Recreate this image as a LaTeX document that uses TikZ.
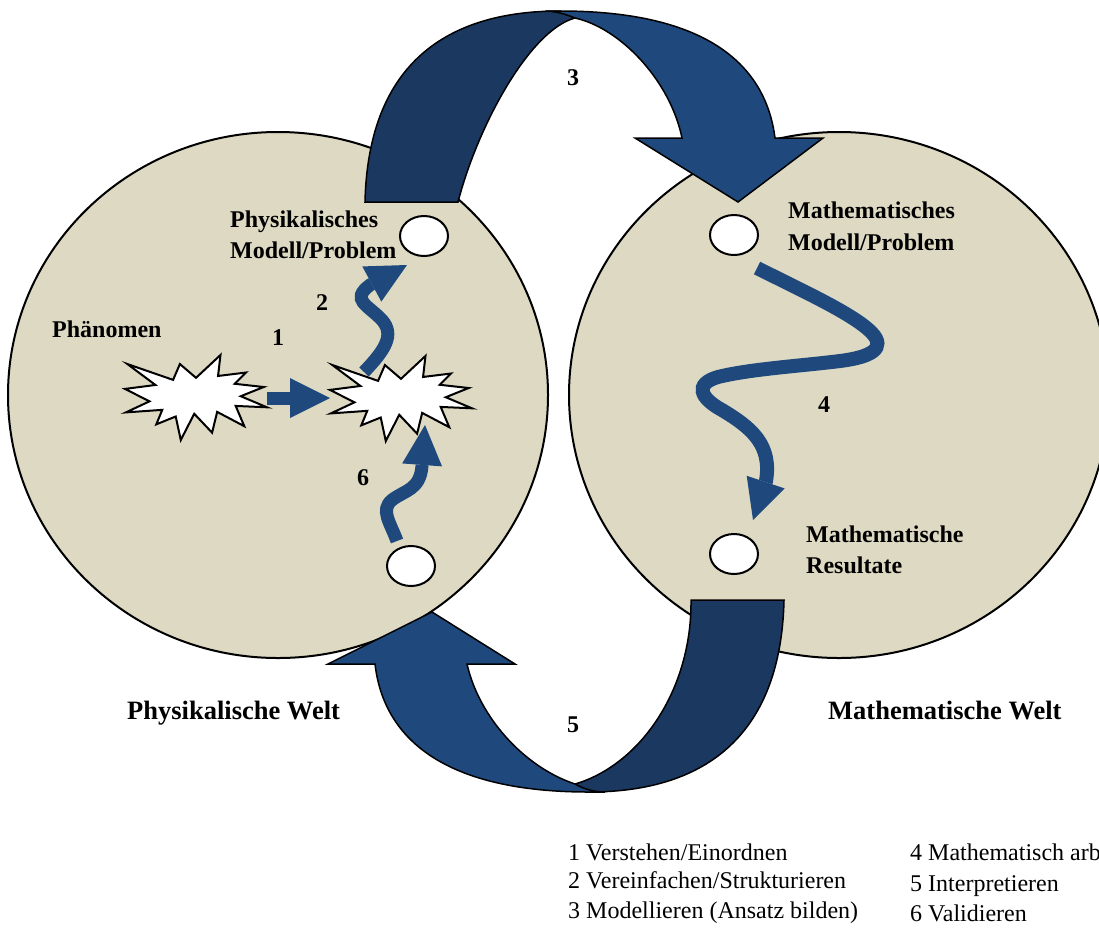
\documentclass[tikz,border=0pt]{standalone}
\usepackage{fontspec}
\setmainfont{Liberation Serif}
\usetikzlibrary{shapes.geometric,arrows.meta}
\definecolor{worldbg}{HTML}{DDD9C3}
\definecolor{bandlight}{HTML}{1F497D}
\definecolor{banddark}{HTML}{1B3861}
\tikzset{
  world/.style={fill=worldbg,draw=black,line width=2pt},
  hole/.style={ellipse,draw=black,fill=white,line width=2pt,minimum width=48pt,minimum height=40pt,inner sep=0pt},
  bandfront/.style={fill=bandlight,draw=black,line width=1.5pt,line join=miter},
  bandback/.style={fill=banddark,draw=black,line width=1.5pt,line join=miter},
  burstline/.style={fill=white,draw=black,line width=2pt,line join=miter,miter limit=10},
  wavearrow/.style={draw=bandlight,line width=13pt,-{Triangle[width=40pt,length=40pt,line width=0pt]}},
  lbl/.style={anchor=base west,inner sep=0pt,font=\fontsize{24}{28}\selectfont\bfseries},
  numtxt/.style={anchor=base,inner sep=0pt,font=\fontsize{24}{28}\selectfont\bfseries},
  weltlbl/.style={anchor=base west,inner sep=0pt,font=\fontsize{26.5}{30}\selectfont\bfseries},
  legtext/.style={anchor=base west,inner sep=0pt,font=\fontsize{24}{28}\selectfont},
  burst/.pic={
    \draw[burstline] (108,58) -- (145.22,0) -- (141.55,53.25) -- (183.80,44.57) -- (167.02,73.15)
      -- (210.97,81.37) -- (176.07,104.75) -- (216,132.90) -- (168.37,129.42) -- (181.45,180.95)
      -- (140.20,144.57) -- (132.47,197.37) -- (105.32,149.35) -- (84.85,216) -- (77.15,156.27)
      -- (47.62,176.17) -- (56.67,139.37) -- (1.35,145.87) -- (37.22,117.75) -- (0,86.15)
      -- (46.27,76.17) -- (3.70,22.95) -- (73.12,63.20) -- (83.52,22.95) -- cycle;
    \coordinate (-c) at (108,108);
  }
}
\begin{document}
\begin{tikzpicture}[x=1pt,y=-1pt]
\useasboundingbox (0,0) rectangle (1099,927);
\clip (0,0) rectangle (1099,927);

% worlds
\draw[world] (278,395) ellipse[x radius=270, y radius=263];
\draw[world] (839,395) ellipse[x radius=270, y radius=263];

% top curved arrow (3)
\draw[bandback] (365,202) .. controls (368,70) and (440,11) .. (560,11) -- (575,18)
  .. controls (530,30) and (478,125) .. (458,202) -- cycle;
\draw[bandfront] (545,11) -- (560,11) .. controls (700,11) and (765,60) .. (775,138)
  -- (823,138) -- (738,202) -- (635,138) -- (682,138)
  .. controls (670,80) and (620,28) .. (575,18)
  .. controls (565,14) and (555,11) .. (545,11) -- cycle;

% bottom curved arrow (5)
\draw[bandback] (784,600) .. controls (781,732) and (709,792) .. (589,792) -- (575,784)
  .. controls (640,765) and (692,690) .. (691,600) -- cycle;
\draw[bandfront] (605,792) -- (589,792) .. controls (449,792) and (384,742) .. (375,664)
  -- (328,664) -- (432,612) -- (515,664) -- (467,664)
  .. controls (479,717) and (524,767) .. (575,784)
  .. controls (584,789) and (594,792) .. (605,792) -- cycle;

% small ellipses
\node[hole] (pmod) at (424,236) {};
\node[hole] (mmod) at (734,235) {};
\node[hole] (mres) at (734,554) {};
\node[hole] (pres) at (411,566) {};

% starbursts
\pic[xscale=0.6574,yscale=0.3935] (phen) at (125,355) {burst};
\pic[xscale=0.6574,yscale=0.3935] (phys) at (330,356) {burst};

% connector end points
\coordinate (a1s) at (267,398);
\coordinate (a1e) at (330,398);
\coordinate (a2s) at (364,372);
\coordinate (a2e) at (407,265);
\coordinate (a6s) at (397,541);
\coordinate (a6e) at (425,425);
\coordinate (a4s) at (757,268);
\coordinate (a4e) at (753,520);

% small arrows
\draw[wavearrow] (a1s) -- (a1e);
\draw[wavearrow] (a2s) .. controls (385,350) and (395,335) .. (382,320)
  .. controls (368,305) and (350,300) .. (370,285) -- (a2e);
\draw[wavearrow] (a6s) .. controls (390,522) and (380,510) .. (392,500)
  .. controls (405,490) and (420,490) .. (422,466) -- (a6e);
\draw[wavearrow,line width=14pt] (a4s) .. controls (805,292) and (855,315) .. (872,333)
  .. controls (886,348) and (872,357) .. (840,361)
  .. controls (800,366) and (750,369) .. (718,377)
  .. controls (694,384) and (700,398) .. (722,410)
  .. controls (752,428) and (772,445) .. (766,481) -- (a4e);

% labels
\node[lbl] (t1) at (230,227) {Physikalisches};
\node[lbl] (t2) at (230,258) {Modell/Problem};
\node[lbl] (t3) at (52,337) {Phänomen};
\node[lbl] (t4) at (788,218) {Mathematisches};
\node[lbl] (t5) at (788,250) {Modell/Problem};
\node[lbl] (t6) at (806,542) {Mathematische};
\node[lbl] (t7) at (806,573) {Resultate};
\node[weltlbl] (w1) at (127,719) {Physikalische Welt};
\node[weltlbl] (w2) at (828,719) {Mathematische Welt};

\node[numtxt] (n1) at (278,345) {1};
\node[numtxt] (n2) at (322,310) {2};
\node[numtxt] (n3) at (573,85) {3};
\node[numtxt] (n4) at (824,412) {4};
\node[numtxt] (n5) at (573,732) {5};
\node[numtxt] (n6) at (363,485) {6};

% legend
\node[legtext] (l1) at (568,860) {1 Verstehen/Einordnen};
\node[legtext] (l2) at (568,888) {2 Vereinfachen/Strukturieren};
\node[legtext] (l3) at (568,918) {3 Modellieren (Ansatz bilden)};
\node[legtext] (l4) at (910,860) {4 Mathematisch arb};
\node[legtext] (l5) at (910,891) {5 Interpretieren};
\node[legtext] (l6) at (910,921) {6 Validieren};
\end{tikzpicture}
\end{document}
